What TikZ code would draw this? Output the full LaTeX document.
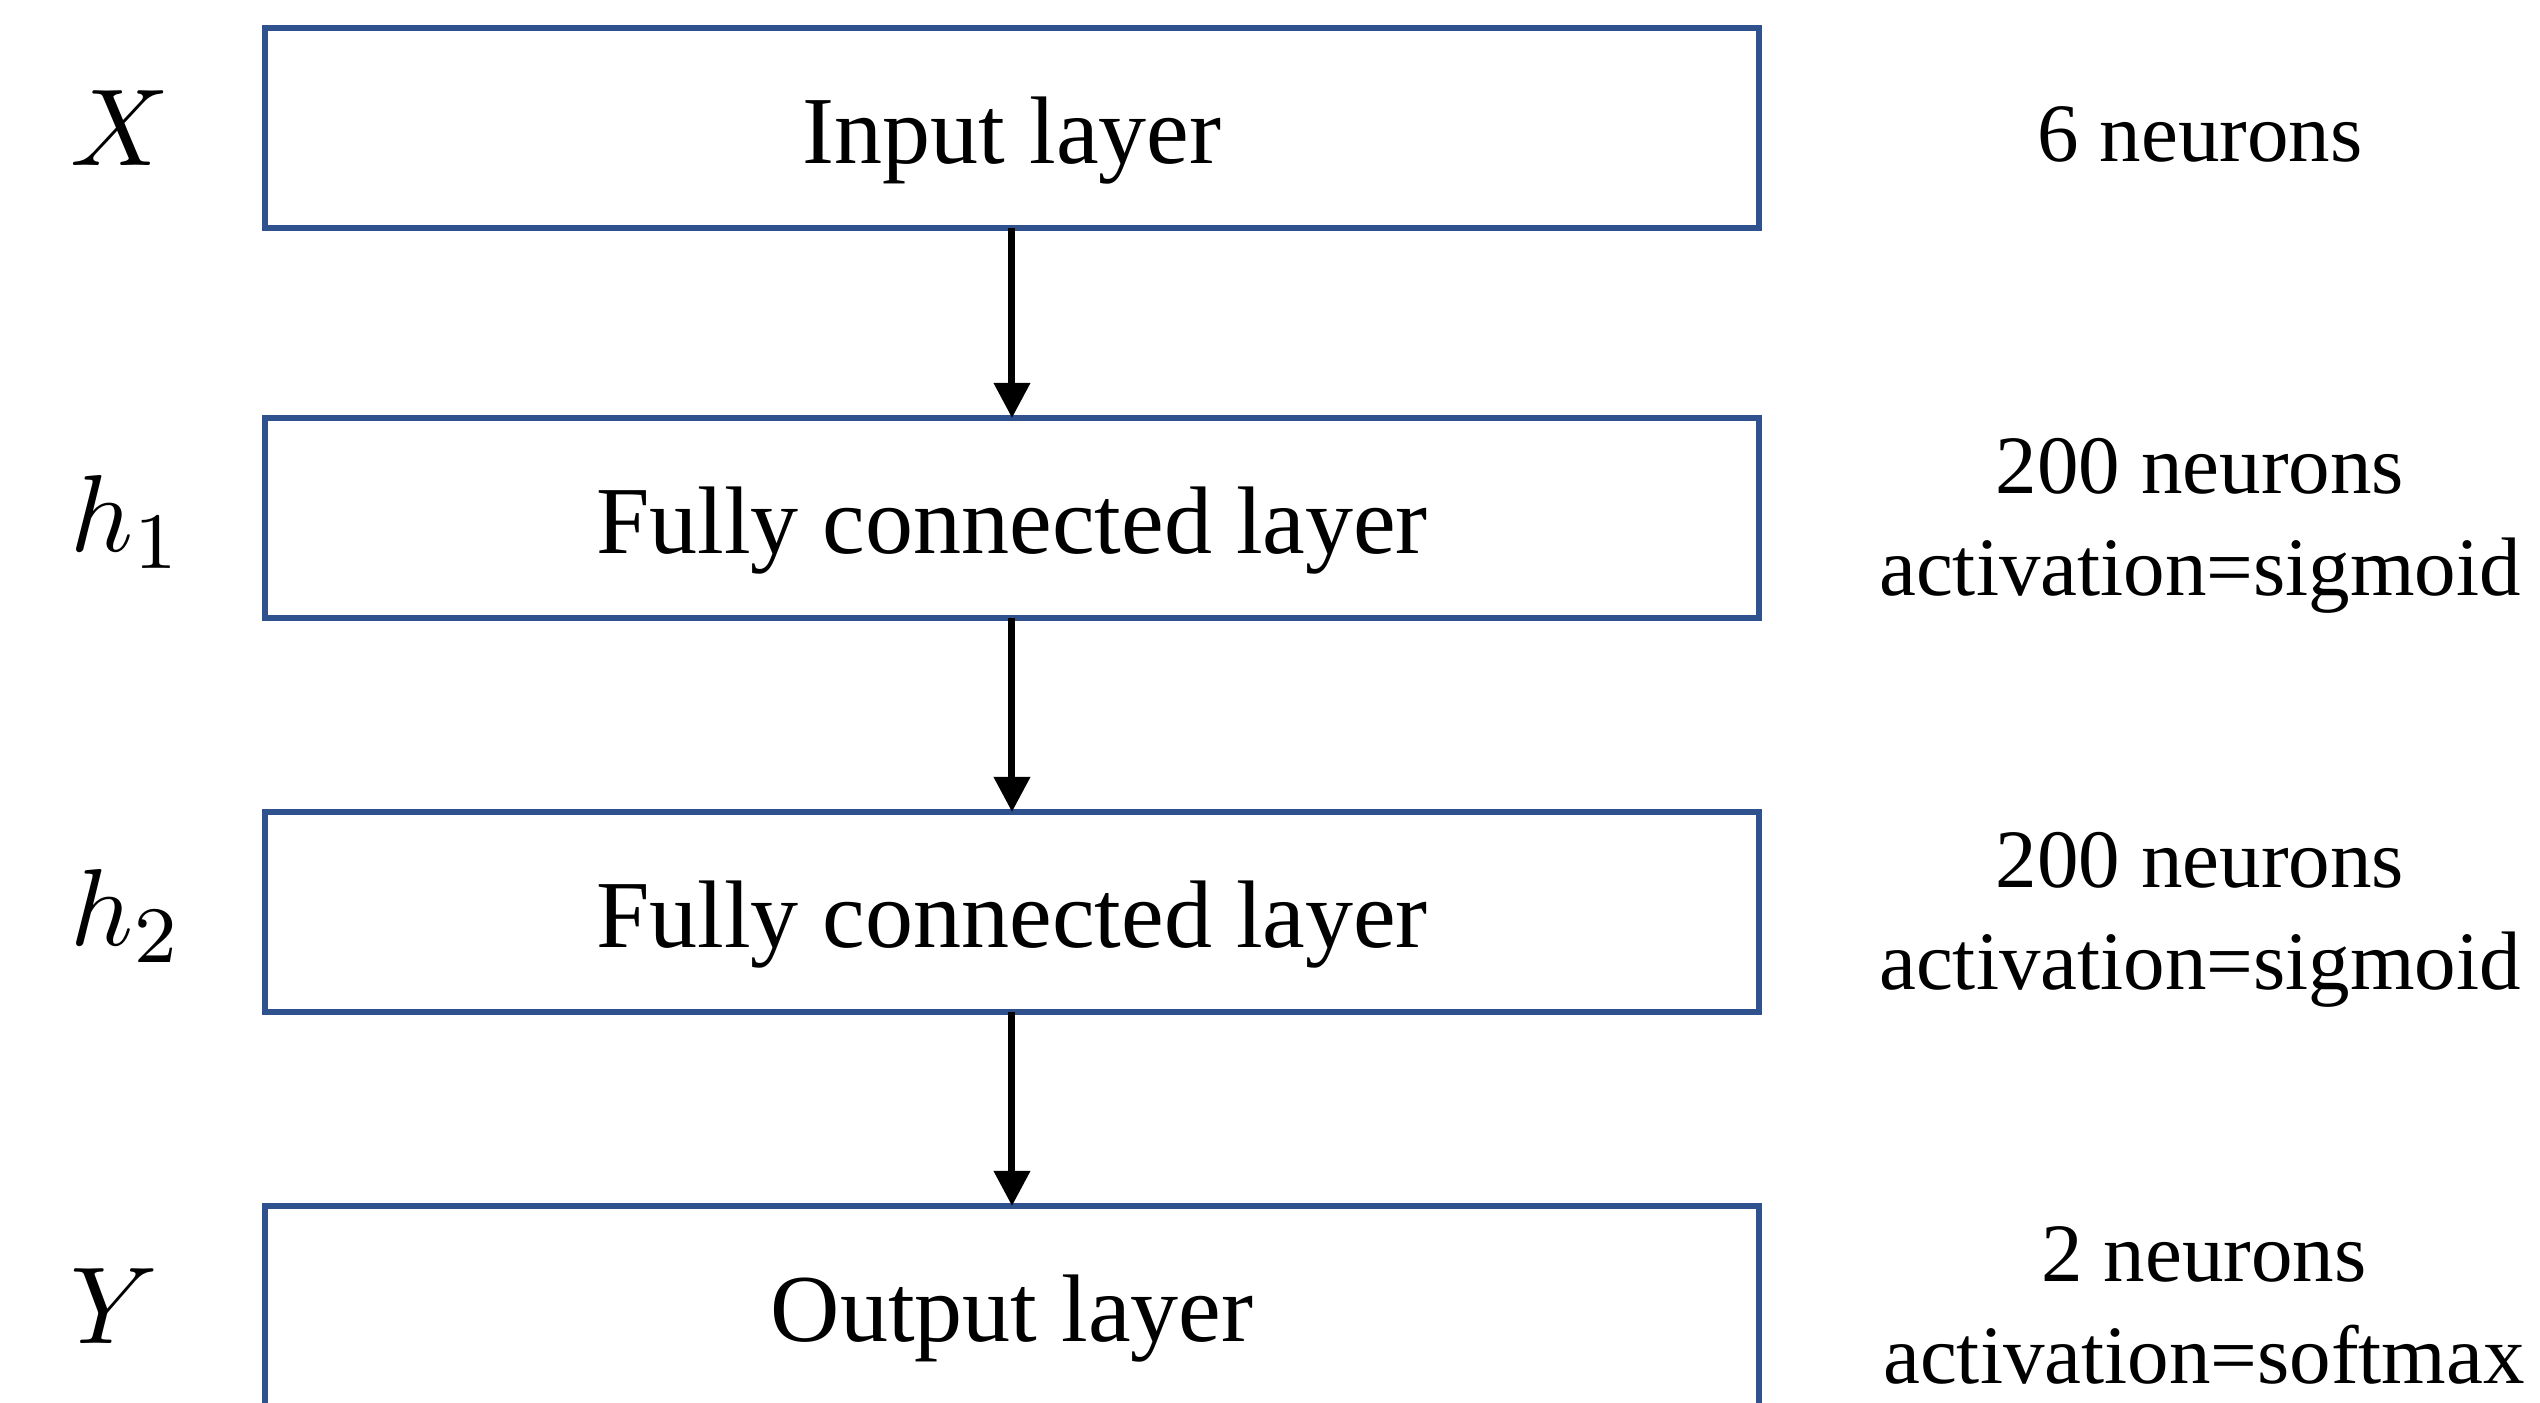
\documentclass[tikz,border=0pt]{standalone}
\usepackage{fontspec}
\setmainfont{Liberation Serif}
\usetikzlibrary{arrows.meta}

\definecolor{layerblue}{RGB}{47,82,143}
\tikzset{every picture/.style={line width=0.6pt}}
\tikzset{
  layerbox/.style={draw=layerblue, line width=0.6pt, minimum width=149.4pt, minimum height=20pt, inner sep=0pt, outer sep=0pt, text height=7.2pt, text depth=0pt, font=\fontsize{9.6}{11.5}\selectfont},
  varlabel/.style={anchor=west, inner sep=0pt, font=\fontsize{11}{13}\selectfont},
  infolabel/.style={align=center, inner sep=0pt, font=\fontsize{8.3}{10.2}\selectfont},
  flow/.style={draw=black, line width=0.7pt, -{Triangle[width=3.5pt,length=3.5pt]}}
}

\begin{document}
\begin{tikzpicture}[x=0.1pt,y=0.1pt,yscale=-1,xscale=1]
\useasboundingbox (0,0) rectangle (2540,1403);

%Shape: Rectangle
\node [layerbox] (input) at (1012,128) {Input layer};
%Shape: Rectangle
\node [layerbox] (fc1) at (1012,518) {Fully connected layer};
%Shape: Rectangle
\node [layerbox] (fc2) at (1012,912) {Fully connected layer};
%Shape: Rectangle
\node [layerbox] (output) at (1012,1306) {Output layer};

%Straight Lines
\draw [flow] (input) -- (fc1);
\draw [flow] (fc1) -- (fc2);
\draw [flow] (fc2) -- (output);

% Text Node
\node [varlabel] (x) at (68,128) {$X$};
\node [varlabel] (h1) at (68,522) {$h_1$};
\node [varlabel] (h2) at (68,916) {$h_2$};
\node [varlabel] (y) at (68,1306) {$Y$};

% Text Node
\node [infolabel] (n0) at (2200,134) {6 neurons};
\node [infolabel] (n1) at (2200,526) {200 neurons\\activation=sigmoid};
\node [infolabel] (n2) at (2200,920) {200 neurons\\activation=sigmoid};
\node [infolabel] (n3) at (2204,1305) {2 neurons\\activation=softmax};

\end{tikzpicture}
\end{document}
